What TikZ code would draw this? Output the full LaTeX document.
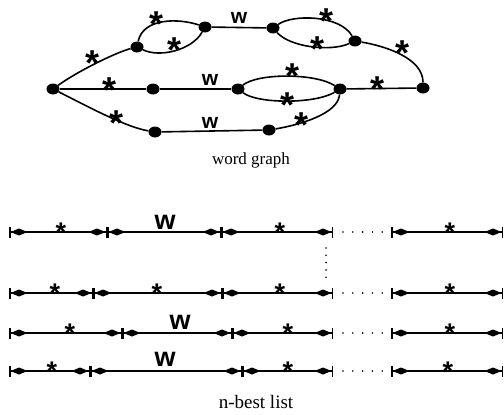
\documentclass[tikz,border=0pt]{standalone}
\usepackage{fontspec}
\setmainfont{Liberation Serif}
\setsansfont{Liberation Sans}
\usetikzlibrary{arrows.meta,shapes.geometric}
\newcommand\mystar{\smash{\raisebox{-0.57em}{*}}}
\newcommand\myw{\smash{\raisebox{-0.26em}{w}}}
\begin{document}
\begin{tikzpicture}[x=1pt,y=-1pt,
  gnode/.style={ellipse,fill=black,minimum width=13pt,minimum height=11pt,inner sep=0pt},
  edge/.style={line width=1.6pt},
  lab/.style={inner sep=0pt,anchor=center,text height=0.15em,text depth=0.15em},
  gstar/.style={lab,font=\sffamily\bfseries\fontsize{36}{36}\selectfont},
  gw/.style={lab,font=\sffamily\bfseries\fontsize{21}{21}\selectfont},
  nstar/.style={lab,font=\sffamily\bfseries\fontsize{27}{27}\selectfont},
  nw/.style={lab,font=\sffamily\bfseries\fontsize{27}{27}\selectfont},
  kitetip/.tip={Kite[length=17pt,width=7pt,inset=8.5pt]},
  bartip/.tip={Bar[width=11pt,line width=1.5pt]},
  seg/.style={line width=1.4pt,{bartip[]kitetip[]}-{kitetip[]bartip[]}},
  hdots/.style={line width=1.8pt,line cap=round,dash pattern=on 0pt off 9.8pt},
  vdots/.style={line width=1.8pt,line cap=round,dash pattern=on 0pt off 7.3pt},
  caption/.style={font=\fontsize{17}{17}\selectfont,inner sep=0pt}
]
\useasboundingbox (0,0) rectangle (504,415);

% ---------- word graph ----------
\node[gnode] (A) at (53,89) {};
\node[gnode] (B) at (137,47) {};
\node[gnode] (C) at (205,27) {};
\node[gnode] (D) at (273,28) {};
\node[gnode] (E) at (355,41) {};
\node[gnode] (F) at (423,88) {};
\node[gnode] (G) at (153,89) {};
\node[gnode] (H) at (238,89) {};
\node[gnode] (I) at (340,89) {};
\node[gnode] (J) at (155,132) {};
\node[gnode] (K) at (269,130) {};

\draw[edge] (A) .. controls (78,71) and (117,52) .. (B);
\draw[edge] (B) .. controls (143,18) and (178,18) .. (C);
\draw[edge] (B) .. controls (160,58) and (192,50) .. (C);
\draw[edge] (C) -- (D);
\draw[edge] (D) .. controls (293,14) and (340,15) .. (E);
\draw[edge] (D) .. controls (290,47) and (330,52) .. (E);
\draw[edge] (E) .. controls (385,46) and (423,58) .. (F);
\draw[edge] (A) -- (G);
\draw[edge] (G) -- (H);
\draw[edge] (H) .. controls (258,73) and (315,73) .. (I);
\draw[edge] (H) .. controls (258,104) and (315,104) .. (I);
\draw[edge] (I) -- (F);
\draw[edge] (A) .. controls (83,104) and (125,127) .. (J);
\draw[edge] (J) -- (K);
\draw[edge] (K) .. controls (299,125) and (338,114) .. (I);

\node[gstar] (sAB) at (93,55) {\mystar};
\node[gstar] (sBC1) at (157,16) {\mystar};
\node[gstar] (sBC2) at (175,42) {\mystar};
\node[gw] (wCD) at (239,18) {\myw};
\node[gstar] (sDE1) at (327,13) {\mystar};
\node[gstar] (sDE2) at (318,41) {\mystar};
\node[gstar] (sEF) at (403,45) {\mystar};
\node[gstar] (sAG) at (110,82) {\mystar};
\node[gw] (wGH) at (210,80) {\myw};
\node[gstar] (sHI1) at (293,68) {\mystar};
\node[gstar] (sHI2) at (288,97) {\mystar};
\node[gstar] (sIF) at (378,81) {\mystar};
\node[gstar] (sAJ) at (117,115) {\mystar};
\node[gw] (wJK) at (210,123) {\myw};
\node[gstar] (sKI) at (302,117) {\mystar};

\node[caption] (cap1) at (251,160) {word graph};

% ---------- n-best list ----------
\foreach \r/\yy/\a/\b in {1/232/107/221, 2/293/93/222, 3/333/122/232, 4/371/90/242}{
  \coordinate (r\r p0) at (9,\yy);
  \coordinate (r\r p1) at (\a,\yy);
  \coordinate (r\r p2) at (\b,\yy);
  \coordinate (r\r p3) at (333,\yy);
  \coordinate (r\r p4) at (391,\yy);
  \coordinate (r\r p5) at (503,\yy);
  \coordinate (r\r d0) at (343,\yy);
  \coordinate (r\r d1) at (383,\yy);
  \draw[seg] (r\r p0) -- (r\r p1);
  \draw[seg] (r\r p1) -- (r\r p2);
  \draw[seg] (r\r p2) -- (r\r p3);
  \draw[seg] (r\r p4) -- (r\r p5);
  \draw[hdots] (r\r d0) -- (r\r d1);
}

\node[nstar] (n1a) at (61,226) {\mystar};
\node[nw]    (n1b) at (165,222) {\myw};
\node[nstar] (n1c) at (280,226) {\mystar};
\node[nstar] (n1d) at (450,226) {\mystar};

\node[nstar] (n2a) at (55,287) {\mystar};
\node[nstar] (n2b) at (157,287) {\mystar};
\node[nstar] (n2c) at (280,287) {\mystar};
\node[nstar] (n2d) at (450,287) {\mystar};

\node[nstar] (n3a) at (70,327) {\mystar};
\node[nw]    (n3b) at (180,322) {\myw};
\node[nstar] (n3c) at (288,327) {\mystar};
\node[nstar] (n3d) at (450,327) {\mystar};

\node[nstar] (n4a) at (52,365) {\mystar};
\node[nw]    (n4b) at (165,359) {\myw};
\node[nstar] (n4c) at (288,365) {\mystar};
\node[nstar] (n4d) at (448,365) {\mystar};

\coordinate (v0) at (326,248);
\coordinate (v1) at (326,278);
\draw[vdots] (v0) -- (v1);

\node[caption,font=\fontsize{19}{19}\selectfont] (cap2) at (256,402) {n-best list};
\end{tikzpicture}
\end{document}
